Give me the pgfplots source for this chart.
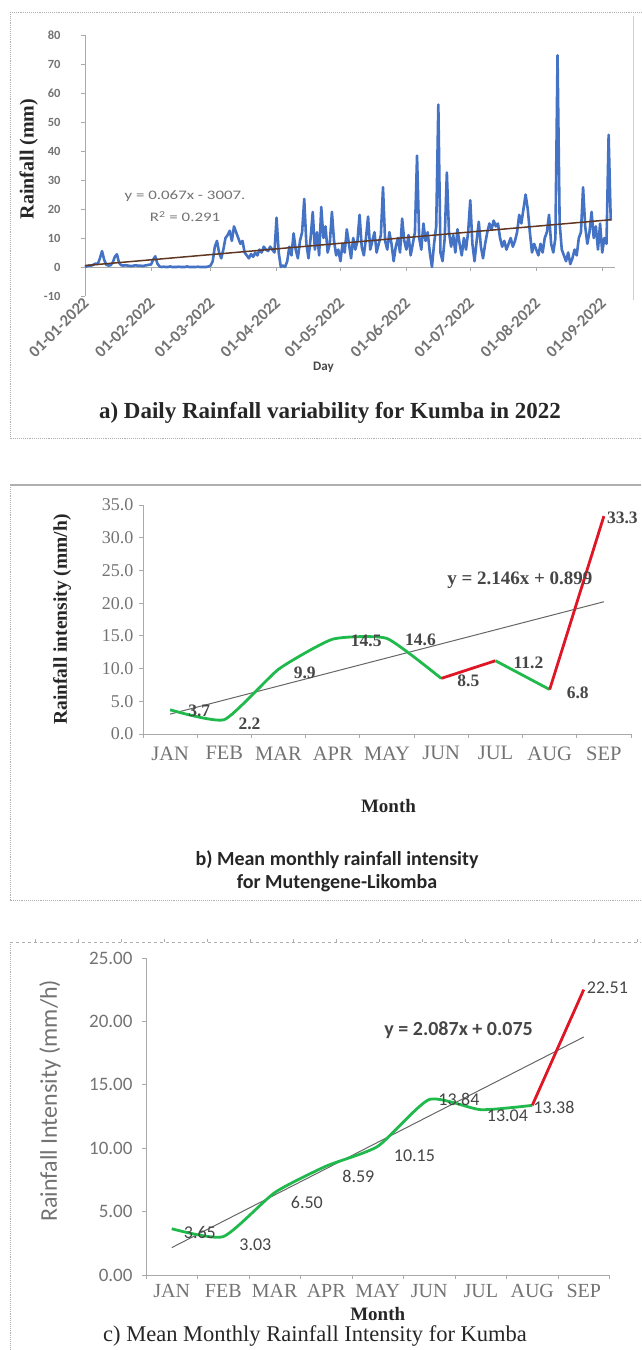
\documentclass[border=0pt]{standalone}
\usepackage{pgfplots}
\pgfplotsset{compat=1.18}
\usepackage{pgfplotstable}
\usepackage{fontspec}
\setmainfont{Liberation Serif}
\newfontfamily\calibri{Carlito}

\definecolor{rainblue}{RGB}{68,114,196}
\definecolor{trendbrown}{RGB}{95,55,35}
\definecolor{lgreen}{RGB}{32,186,76}
\definecolor{lred}{RGB}{222,22,38}
\definecolor{axgray}{RGB}{170,170,170}
\definecolor{txtgray}{RGB}{115,115,115}
\definecolor{lblgray}{RGB}{70,70,70}
\definecolor{framegray}{RGB}{175,175,175}

% daily rainfall, Kumba 2022 (day 0 = 1 January)
\pgfplotstableread[row sep=\\]{
d r\\
0 0\\ 1 0.3\\ 2 0.5\\ 3 0.5\\ 4 0.8\\ 5 1.2\\ 6 1.0\\ 7 3.0\\ 8 5.5\\ 9 2.5\\
10 0.8\\ 11 0.5\\ 12 0.6\\ 13 1.5\\ 14 3.5\\ 15 4.4\\ 16 1.5\\ 17 0.6\\ 18 0.5\\ 19 0.6\\
20 0.5\\ 21 0.4\\ 22 0.3\\ 23 0.5\\ 24 0.6\\ 25 0.4\\ 26 0.5\\ 27 0.3\\ 28 0.5\\ 29 0.6\\
30 0.8\\ 31 0.8\\ 32 2.5\\ 33 3.7\\ 34 1.2\\ 35 0.2\\ 36 0\\ 37 0.1\\ 38 0\\ 39 0\\
40 0.2\\ 41 0\\ 42 0\\ 43 0\\ 44 0.1\\ 45 0\\ 46 0\\ 47 0\\ 48 0.2\\ 49 0\\
50 0\\ 51 0\\ 52 0\\ 53 0.1\\ 54 0\\ 55 0\\ 56 0\\ 57 0\\ 58 0.2\\ 59 0.5\\
60 2\\ 61 7\\ 62 9\\ 63 5\\ 64 3\\ 65 6\\ 66 10\\ 67 11\\ 68 12.5\\ 69 9\\
70 14\\ 71 12\\ 72 10\\ 73 8\\ 74 9\\ 75 5\\ 76 4\\ 77 3\\ 78 4.5\\ 79 3.5\\
80 5\\ 81 4\\ 82 6\\ 83 5\\ 84 7\\ 85 6\\ 86 5.5\\ 87 7\\ 88 6\\ 89 5\\
90 17\\ 91 5\\ 92 0\\ 93 0.5\\ 94 0\\ 95 2\\ 96 7\\ 97 4\\ 98 11.6\\ 99 6\\
100 3\\ 101 9\\ 102 12\\ 103 23.5\\ 104 8\\ 105 3\\ 106 10\\ 107 19\\ 108 6\\ 109 12\\
110 4\\ 111 20.7\\ 112 10\\ 113 14\\ 114 5\\ 115 8\\ 116 19\\ 117 9\\ 118 4\\ 119 6\\
120 2\\ 121 8\\ 122 5\\ 123 13\\ 124 8\\ 125 3\\ 126 10\\ 127 6\\ 128 9\\ 129 18\\
130 7\\ 131 4\\ 132 10\\ 133 17.4\\ 134 6\\ 135 9\\ 136 12\\ 137 5\\ 138 8\\ 139 11\\
140 27.5\\ 141 9\\ 142 6\\ 143 12\\ 144 8\\ 145 2\\ 146 7\\ 147 10\\ 148 5\\ 149 16.7\\
150 9\\ 151 6\\ 152 11\\ 153 4\\ 154 8\\ 155 12\\ 156 38.4\\ 157 10\\ 158 6\\ 159 15\\
160 9\\ 161 12\\ 162 5\\ 163 0\\ 164 8\\ 165 14\\ 166 56\\ 167 5\\ 168 2\\ 169 10\\
170 32.6\\ 171 12\\ 172 7\\ 173 11\\ 174 5\\ 175 13\\ 176 8\\ 177 4\\ 178 10\\ 179 6\\
180 12\\ 181 23\\ 182 8\\ 183 2\\ 184 9\\ 185 15.6\\ 186 7\\ 187 3\\ 188 8\\ 189 12\\
190 15\\ 191 13\\ 192 16\\ 193 14\\ 194 15\\ 195 10\\ 196 7\\ 197 9\\ 198 6\\ 199 8\\
200 10\\ 201 7\\ 202 9\\ 203 12\\ 204 18\\ 205 15\\ 206 20\\ 207 25\\ 208 20\\ 209 12\\
210 5\\ 211 8\\ 212 6\\ 213 4\\ 214 8\\ 215 5\\ 216 10\\ 217 12\\ 218 18\\ 219 8\\
220 5\\ 221 10\\ 222 73\\ 223 15\\ 224 6\\ 225 4\\ 226 2\\ 227 5\\ 228 1\\ 229 3\\
230 6\\ 231 4\\ 232 10\\ 233 12\\ 234 27.5\\ 235 14\\ 236 8\\ 237 12\\ 238 19\\ 239 10\\
240 14\\ 241 6\\ 242 15\\ 243 5\\ 244 10\\ 245 8\\ 246 45.6\\ 247 16\\
}\daily

% mean monthly intensity, Mutengene-Likomba (dx, dy = label offsets)
\pgfplotstableread{
m  v     dx  dy
0  3.7   18  -1
1  2.2   14  -4
2  9.9   15  -4
3  14.5  18  -2
4  14.6  18  -1
5  8.5   16  -2
6  11.2  18  -2
7  6.8   17  -3
8  33.3  3   -2
}\mutengene

% mean monthly intensity, Kumba
\pgfplotstableread{
m  v      dx  dy
0  3.65   12  -4
1  3.03   16  -8
2  6.50   16  -10
3  8.59   16  -10
4  10.15  16  -9
5  13.84  9   0
6  13.04  6   -6
7  13.38  1   -2
8  22.51  3   2
}\kumba

\begin{document}
\begin{tikzpicture}
\useasboundingbox (0pt,0pt) rectangle (641pt,-1350pt);

% panel frames
\draw[framegray, densely dotted, line width=0.9pt] (10pt,-12pt) -- (641pt,-12pt);
\draw[framegray, densely dotted, line width=0.9pt] (10pt,-12pt) -- (10pt,-438pt) -- (641pt,-438pt);
\draw[framegray!60, line width=0.6pt] (633pt,-16pt) -- (633pt,-300pt);
\draw[framegray, line width=1.2pt] (10pt,-485pt) -- (641pt,-485pt);
\draw[framegray, densely dotted, line width=0.9pt] (10pt,-485pt) -- (10pt,-900pt) -- (641pt,-900pt);
\draw[framegray, dashed, line width=0.9pt] (10pt,-942pt) -- (641pt,-942pt);
\foreach \k in {0,...,14} \draw[framegray, line width=1pt] (35pt+43pt*\k,-942pt) -- ++(0,3pt);
\draw[framegray, densely dotted, line width=0.9pt] (10pt,-942pt) -- (10pt,-1350pt);

% ---------- a) daily rainfall ----------
\begin{axis}[
  at={(85pt,-296pt)}, anchor=south west,
  scale only axis, width=530pt, height=261pt,
  xmin=0, xmax=249, ymin=-10, ymax=80,
  axis x line*=bottom, axis y line*=left,
  x axis line style={draw=none},
  y axis line style={axgray, line width=0.8pt},
  ytick={-10,0,...,80},
  xtick={0,31,59,90,120,151,181,212,243},
  xticklabels={01-01-2022,01-02-2022,01-03-2022,01-04-2022,01-05-2022,01-06-2022,01-07-2022,01-08-2022,01-09-2022},
  xtick style={draw=none},
  ytick style={axgray, line width=0.8pt},
  tick align=outside, major tick length=4pt,
  /pgf/number format/assume math mode=true,
  yticklabel style={font=\calibri\bfseries\fontsize{12.5}{14}\selectfont, text=txtgray, xshift=-17pt},
  xticklabel style={font=\calibri\bfseries\fontsize{16.5}{18}\selectfont, text=txtgray, rotate=45, anchor=east, xshift=4pt, yshift=-1pt},
  xlabel={Day},
  xlabel style={font=\calibri\bfseries\fontsize{13}{15}\selectfont, text=lblgray, at={(axis description cs:0.45,0)}, anchor=center, yshift=-71pt},
  ylabel={Rainfall (mm)},
  ylabel style={font=\bfseries\fontsize{20}{22}\selectfont, text=black!85, at={(axis description cs:-0.106,0.525)}, anchor=center},
  clip=false,
]
\draw[axgray, line width=0.8pt] (axis cs:0,0) -- (axis cs:249,0);
\pgfplotsinvokeforeach{31,59,90,120,151,181,212,243}{
  \draw[axgray, line width=0.8pt] (axis cs:#1,0) -- ++(0pt,-4pt);
}
\addplot[rainblue, line width=2.6pt, line join=round] table[x=d, y=r] {\daily};
\addplot[trendbrown, line width=1.5pt] coordinates {(0,0.5) (247,16.3)};
\node[font=\calibri\fontsize{13}{22}\selectfont, text=txtgray, align=center, xscale=1.3] at (axis cs:47,21)
  {y = 0.067x - 3007.\\R\textsuperscript{2} = 0.291};
\end{axis}
\node[font=\bfseries\fontsize{23}{26}\selectfont, text=black!85] at (330pt,-413pt)
  {a) Daily Rainfall variability for Kumba in 2022};

% ---------- b) Mutengene-Likomba ----------
\begin{axis}[
  at={(143pt,-734pt)}, anchor=south west,
  scale only axis, width=488pt, height=229pt,
  xmin=-0.5, xmax=8.5, ymin=0, ymax=35,
  axis x line*=bottom, axis y line*=left,
  axis line style={axgray, line width=0.9pt},
  ytick={0,5,...,35},
  yticklabel={\pgfmathprintnumber[fixed,precision=1,zerofill]{\tick}},
  xtick={-0.5,0.5,...,8.5}, xticklabels={},
  extra x ticks={0,...,8},
  extra x tick labels={JAN,FEB,MAR,APR,MAY,JUN,JUL,AUG,SEP},
  extra x tick style={major tick length=0pt},
  tick style={axgray, line width=0.9pt},
  tick align=outside, major tick length=4pt,
  /pgf/number format/assume math mode=true,
  yticklabel style={font=\fontsize{18}{20}\selectfont, text=txtgray, xshift=-2pt},
  xticklabel style={font=\fontsize{20.5}{22}\selectfont, text=txtgray, yshift=-9pt},
  xlabel={Month},
  xlabel style={font=\bfseries\fontsize{19}{22}\selectfont, text=black!85, at={(axis description cs:0.503,0)}, anchor=center, yshift=-72pt},
  ylabel={Rainfall intensity (mm/h)},
  ylabel style={font=\bfseries\fontsize{19.5}{22}\selectfont, text=black!85, at={(axis description cs:-0.166,0.5)}, anchor=center},
  clip=false,
]
\addplot[gray!80!black, line width=1pt] coordinates {(0,3.045) (8,20.213)};
\addplot[lgreen, line width=2.8pt, smooth, tension=0.3, line join=round] coordinates {(0,3.7) (1,2.2) (2,9.9) (3,14.5) (4,14.6) (5,8.5)};
\addplot[lred, line width=2.8pt] coordinates {(5,8.5) (6,11.2)};
\addplot[lgreen, line width=2.8pt, line join=round] coordinates {(6,11.2) (7,6.8)};
\addplot[lred, line width=2.8pt] coordinates {(7,6.8) (8,33.3)};
\addplot[draw=none, mark=none,
  visualization depends on={\thisrow{dx} \as \dx},
  visualization depends on={\thisrow{dy} \as \dy},
  nodes near coords={\pgfmathprintnumber[fixed,precision=1,zerofill]{\pgfplotspointmeta}},
  point meta=y,
  every node near coord/.append style={anchor=west, xshift=\dx pt, yshift=\dy pt,
    font=\bfseries\fontsize{17.5}{19}\selectfont, text=lblgray, inner sep=0pt}]
  table[x=m, y=v] {\mutengene};
\node[font=\bfseries\fontsize{19}{21}\selectfont, text=lblgray] at (axis cs:6.45,23.5) {y = 2.146x + 0.899};
\end{axis}
\node[font=\calibri\bfseries\fontsize{20}{23}\selectfont, text=black!85, align=center] at (337pt,-871pt)
  {b) Mean monthly rainfall intensity\\for Mutengene-Likomba};

% ---------- c) Kumba ----------
\begin{axis}[
  at={(146pt,-1275pt)}, anchor=south west,
  scale only axis, width=463.5pt, height=317pt,
  xmin=-0.5, xmax=8.5, ymin=0, ymax=25,
  axis x line*=bottom, axis y line*=left,
  axis line style={axgray, line width=0.9pt},
  ytick={0,5,...,25},
  yticklabel={\pgfmathprintnumber[fixed,precision=2,zerofill]{\tick}},
  xtick={-0.5,0.5,...,8.5}, xticklabels={},
  extra x ticks={0,...,8},
  extra x tick labels={JAN,FEB,MAR,APR,MAY,JUN,JUL,AUG,SEP},
  extra x tick style={major tick length=0pt},
  tick style={axgray, line width=0.9pt},
  tick align=outside, major tick length=4pt,
  /pgf/number format/assume math mode=true,
  yticklabel style={font=\calibri\fontsize{19}{21}\selectfont, text=txtgray, xshift=-6pt},
  xticklabel style={font=\fontsize{20}{22}\selectfont, text=txtgray, yshift=-6pt},
  xlabel={Month},
  xlabel style={font=\bfseries\fontsize{19}{22}\selectfont, text=black!85, at={(axis description cs:0.5,0)}, anchor=center, yshift=-39pt},
  ylabel={Rainfall Intensity (mm/h)},
  ylabel style={font=\calibri\fontsize{24}{26}\selectfont, text=txtgray, at={(axis description cs:-0.207,0.55)}, anchor=center},
  clip=false,
]
\addplot[gray!80!black, line width=1pt] coordinates {(0,2.162) (8,18.771)};
\addplot[lgreen, line width=2.8pt, smooth, tension=0.35, line join=round] coordinates {(0,3.65) (1,3.03) (2,6.50) (3,8.59) (4,10.15) (5,13.84) (6,13.04) (7,13.38)};
\addplot[lred, line width=2.8pt] coordinates {(7,13.38) (8,22.51)};
\addplot[draw=none, mark=none,
  visualization depends on={\thisrow{dx} \as \dx},
  visualization depends on={\thisrow{dy} \as \dy},
  nodes near coords={\pgfmathprintnumber[fixed,precision=2,zerofill]{\pgfplotspointmeta}},
  point meta=y,
  every node near coord/.append style={anchor=west, xshift=\dx pt, yshift=\dy pt,
    font=\calibri\fontsize{18}{20}\selectfont, text=lblgray, inner sep=0pt}]
  table[x=m, y=v] {\kumba};
\node[font=\calibri\bfseries\fontsize{20}{22}\selectfont, text=lblgray] at (axis cs:5.57,19.3) {y = 2.087x + 0.075};
\end{axis}
\node[font=\fontsize{22.5}{25}\selectfont, text=black!85] at (315pt,-1336pt)
  {c) Mean Monthly Rainfall Intensity for Kumba};
\end{tikzpicture}
\end{document}
